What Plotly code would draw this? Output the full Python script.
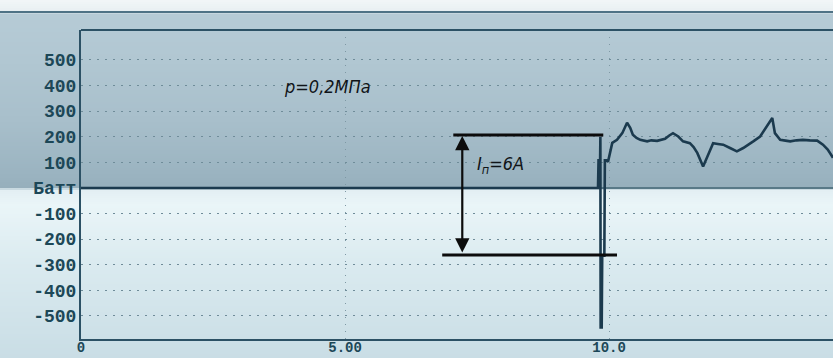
import numpy as np
import plotly.graph_objects as go

# ---- recorded power trace (time, s / power, W) ----
t_rest = [0.0, 9.79]
p_rest = [0.0, 0.0]

t_spike = [9.79, 9.80, 9.83, 9.835, 9.84, 9.86, 9.87, 9.91, 9.92, 9.95, 9.98]
p_spike = [0, 108, 108, 200, -545, -545, -265, -265, 108, 108, 102]

t_run = [10.06, 10.15, 10.25, 10.30, 10.34, 10.40, 10.45, 10.52, 10.59, 10.72, 10.80,
         10.91, 11.06, 11.14, 11.21, 11.31, 11.40, 11.53, 11.60, 11.67, 11.78, 11.86,
         11.97, 12.06, 12.16, 12.29, 12.42, 12.54, 12.64, 12.73, 12.86, 12.99, 13.04,
         13.09, 13.14, 13.24, 13.34, 13.43, 13.55, 13.67, 13.80, 13.94, 14.05, 14.14, 14.24]
p_run = [176, 188, 214, 236, 255, 235, 208, 195, 188, 182, 186,
         184, 192, 205, 214, 201, 182, 175, 160, 137, 84, 122,
         175, 172, 169, 156, 143, 156, 168, 182, 201, 241, 255,
         273, 214, 188, 185, 182, 186, 188, 186, 185, 169, 150, 118]

time = t_rest + t_spike + t_run
power = p_rest + p_spike + p_run

y_ticks = [500, 400, 300, 200, 100, 0, -100, -200, -300, -400, -500]
y_labels = ["500", "400", "300", "200", "100", "Батт", "-100", "-200", "-300", "-400", "-500"]
x_ticks = [0, 5, 10]
x_labels = ["0", "5.00", "10.0"]

# current-step marker (levels in W, span in s)
step_top, step_bottom = 207, -262
step_top_span = (7.05, 9.89)
step_bottom_span = (6.84, 10.15)
arrow_t = 7.22

W, H = 833, 358
ML, MR, MT, MB = 81, 0, 30, 19
PW, PH = W - ML - MR, H - MT - MB

fig = go.Figure()
fig.add_trace(go.Scatter(
    x=time, y=power, mode="lines",
    line=dict(color="#1b3a4e", width=2.6),
    hoverinfo="skip", showlegend=False,
))

# background shading of the printed sheet (vertical gradient, pixel rows)
stops = [
    (0, "#f2f6f7"), (11, "#e8eff2"), (14, "#b6cbd6"), (60, "#b1c7d2"),
    (120, "#a8bfcb"), (176, "#9ab3c0"), (187, "#96afbc"), (190, "#e2eff3"),
    (205, "#eaf5f8"), (260, "#dbebf0"), (358, "#c9dde5"),
]


def hex2rgb(h):
    return np.array([int(h[i:i + 2], 16) for i in (1, 3, 5)], dtype=float)


sp = np.array([s[0] for s in stops], dtype=float)
sc = np.array([hex2rgb(s[1]) for s in stops])


def px_to_py(py):
    return (H - MB - py) / PH


def px_to_px(px):
    return (px - ML) / PW


shapes = []
step = 2
for y0 in range(0, H, step):
    mid = y0 + step / 2
    c = [np.interp(mid, sp, sc[:, k]) for k in range(3)]
    col = "rgb(%d,%d,%d)" % tuple(int(round(v)) for v in c)
    shapes.append(dict(
        type="rect", xref="paper", yref="paper", layer="below",
        x0=px_to_px(0), x1=px_to_px(W), y0=px_to_py(y0 + step + 0.5), y1=px_to_py(y0),
        fillcolor=col, line=dict(width=0),
    ))

# upper edge of the sheet and top frame of the plot
shapes.append(dict(type="line", xref="paper", yref="paper", layer="above",
                   x0=px_to_px(0), x1=px_to_px(W), y0=px_to_py(12), y1=px_to_py(12),
                   line=dict(color="#4f7386", width=2)))
shapes.append(dict(type="line", xref="paper", yref="paper", layer="above",
                   x0=0, x1=1, y0=1, y1=1,
                   line=dict(color="#2c5165", width=2)))

# current-step bracket
shapes.append(dict(type="line", xref="x", yref="y", layer="above",
                   x0=step_top_span[0], x1=step_top_span[1], y0=step_top, y1=step_top,
                   line=dict(color="#0c0c0c", width=3)))
shapes.append(dict(type="line", xref="x", yref="y", layer="above",
                   x0=step_bottom_span[0], x1=step_bottom_span[1], y0=step_bottom, y1=step_bottom,
                   line=dict(color="#0c0c0c", width=3)))

label_font = dict(family="Liberation Sans Narrow, DejaVu Sans Condensed, sans-serif",
                  size=18, color="#101418")

annotations = [
    dict(x=arrow_t, y=step_top - 4, ax=arrow_t, ay=step_bottom + 4,
         xref="x", yref="y", axref="x", ayref="y", text="",
         showarrow=True, arrowhead=2, arrowside="end+start",
         arrowsize=1.3, arrowwidth=2.2, arrowcolor="#0c0c0c"),
    dict(x=7.94, y=90, xref="x", yref="y", text="<i>I<sub>п</sub>=6А</i>",
         showarrow=False, font=label_font),
    dict(x=4.66, y=395, xref="x", yref="y", text="<i>p=0,2МПа</i>",
         showarrow=False, font=label_font),
]

y_tick_font = dict(family="Liberation Mono, DejaVu Sans Mono, monospace",
                   size=18, color="#1c4757", weight="bold")
x_tick_font = dict(family="Liberation Mono, DejaVu Sans Mono, monospace",
                   size=14, color="#1c4757", weight="bold")

fig.update_layout(
    width=W, height=H,
    margin=dict(l=ML, r=MR, t=MT, b=MB, autoexpand=False),
    paper_bgcolor="#dbe9ee",
    plot_bgcolor="rgba(0,0,0,0)",
    shapes=shapes,
    annotations=annotations,
    xaxis=dict(
        range=[0, 14.24], tickvals=x_ticks, ticktext=x_labels,
        showgrid=True, gridcolor="#7e98a4", griddash="1px,6px", gridwidth=1,
        showline=True, linecolor="#2c5165", linewidth=2,
        zeroline=False, ticks="", tickfont=x_tick_font, ticklabelstandoff=-6,
        automargin=False,
    ),
    yaxis=dict(
        range=[-590, 617], tickvals=y_ticks, ticktext=y_labels,
        showgrid=True, gridcolor="#6f8c99", griddash="2px,6px", gridwidth=1,
        showline=True, linecolor="#2c5165", linewidth=2,
        zeroline=True, zerolinecolor="#587987", zerolinewidth=1.5,
        ticks="", tickfont=y_tick_font, ticklabelstandoff=-1,
        automargin=False,
    ),
)

fig.write_html("out.html")
